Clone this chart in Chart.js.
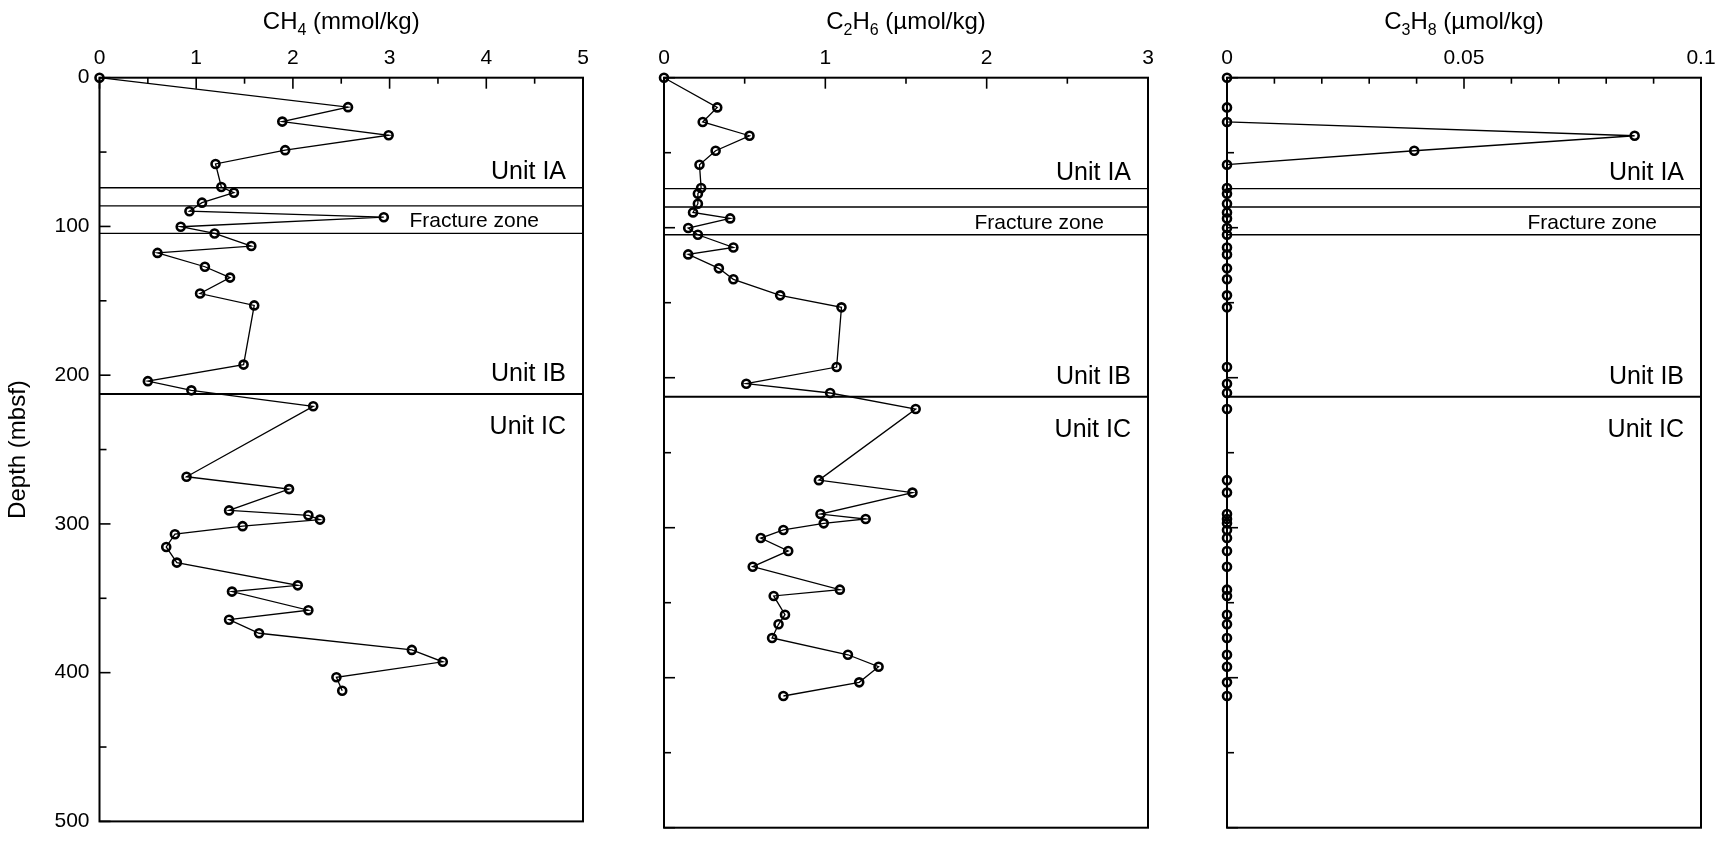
<!DOCTYPE html>
<html lang="en">
<head>
<meta charset="UTF-8">
<title>Headspace gas profiles</title>
<script src="https://cdn.jsdelivr.net/npm/chart.js@4.4.1/dist/chart.umd.min.js"></script>
<style>
  body { margin: 0; background: #fff; }
  #wrap { position: relative; width: 1728px; height: 844px; }
  canvas { position: absolute; top: 0; }
</style>
</head>
<body>
<div id="wrap">
  <canvas id="ch4"></canvas>
  <canvas id="c2h6"></canvas>
  <canvas id="c3h8"></canvas>
</div>
<script>
// sample depths (mbsf), shared by all three profiles
const depth = [0, 19.8, 29.5, 38.7, 48.7, 58, 73.5, 77.3, 84, 89.8, 93.8, 100.2, 104.7, 113.2,
  117.8, 127.1, 134.4, 145.1, 153.1, 192.9, 204, 210.2, 220.9, 268.3, 276.6, 290.9, 294.2,
  297.1, 301.5, 306.9, 315.5, 326, 341.3, 345.5, 358, 364.4, 373.5, 384.7, 392.7, 403.1, 412.2];

// methane, mmol/kg
const ch4 = [0, 2.57, 1.89, 2.99, 1.92, 1.20, 1.26, 1.39, 1.06, 0.93, 2.94, 0.84, 1.19, 1.57,
  0.60, 1.09, 1.35, 1.04, 1.60, 1.49, 0.50, 0.95, 2.21, 0.90, 1.96, 1.34, 2.16,
  2.28, 1.48, 0.78, 0.69, 0.80, 2.05, 1.37, 2.16, 1.34, 1.65, 3.23, 3.55, 2.45, 2.51];

// ethane, umol/kg
const c2h6 = [0, 0.33, 0.24, 0.53, 0.32, 0.22, 0.23, 0.21, 0.21, 0.18, 0.41, 0.15, 0.21, 0.43,
  0.15, 0.34, 0.43, 0.72, 1.10, 1.07, 0.51, 1.03, 1.56, 0.96, 1.54, 0.97, 1.25,
  0.99, 0.74, 0.60, 0.77, 0.55, 1.09, 0.68, 0.75, 0.71, 0.67, 1.14, 1.33, 1.21, 0.74];

// propane, umol/kg
const c3h8 = [0, 0, 0, 0.086, 0.0395, 0, 0, 0, 0, 0, 0, 0, 0, 0,
  0, 0, 0, 0, 0, 0, 0, 0, 0, 0, 0, 0, 0,
  0, 0, 0, 0, 0, 0, 0, 0, 0, 0, 0, 0, 0, 0];

const ch4Ticks = [0, 1, 2, 3, 4, 5];
const c2h6Ticks = [0, 1, 2, 3];
const c3h8Ticks = [0, 0.05, 0.1];
const depthTicks = [0, 100, 200, 300, 400, 500];

// lithologic unit boundaries and labels (mbsf)
const unitBounds = [74, 86.2, 104.7, 212.7];
const unitLabels = ['Unit IA', 'Fracture zone', 'Unit IB', 'Unit IC'];
const unitLabelDepths = [63.7, 96.7, 199.3, 235];

const FONT = '"Liberation Sans", Arial, Helvetica, sans-serif';
Chart.defaults.font.family = FONT;
Chart.defaults.color = '#000';

const PLOT_TOP = 77.7;
const PLOT_BOTTOM = 827.7;

const profilePlugin = {
  id: 'profile',
  beforeDatasetsDraw(chart, args, opts) {
    const { ctx, chartArea: a, scales: { x, y } } = chart;
    ctx.save();
    ctx.strokeStyle = '#000';
    ctx.fillStyle = '#000';

    // unit boundaries
    unitBounds.forEach((d, i) => {
      const py = y.getPixelForValue(d);
      ctx.lineWidth = i === unitBounds.length - 1 ? 2 : 1.3;
      ctx.beginPath();
      ctx.moveTo(a.left, py);
      ctx.lineTo(a.right, py);
      ctx.stroke();
    });

    ctx.textAlign = 'right';
    ctx.textBaseline = 'middle';
    unitLabels.forEach((t, i) => {
      const small = i === 1;
      ctx.font = (small ? 21 : 25) + 'px ' + FONT;
      ctx.fillText(t, a.right - (small ? 44 : 17), y.getPixelForValue(unitLabelDepths[i]));
    });

    // frame
    ctx.lineWidth = 2;
    ctx.strokeRect(a.left, a.top, a.right - a.left, a.bottom - a.top);

    // inward tick marks
    ctx.lineWidth = 1.6;
    const tick = (x0, y0, x1, y1) => {
      ctx.beginPath(); ctx.moveTo(x0, y0); ctx.lineTo(x1, y1); ctx.stroke();
    };
    const majors = x.ticks.map(t => t.value);
    majors.forEach(v => {
      const px = x.getPixelForValue(v);
      tick(px, a.top, px, a.top + 11);
    });
    for (let v = x.min + opts.minorX; v < x.max - 1e-9; v += opts.minorX) {
      if (majors.some(m => Math.abs(m - v) < 1e-9)) continue;
      const px = x.getPixelForValue(v);
      tick(px, a.top, px, a.top + 6);
    }
    depthTicks.forEach((d, i) => {
      let py = y.getPixelForValue(d);
      tick(a.left, py, a.left + 11, py);
      if (i < depthTicks.length - 1) {
        py = y.getPixelForValue((d + depthTicks[i + 1]) / 2);
        tick(a.left, py, a.left + 7, py);
      }
    });

    // axis title with subscripts
    const parts = opts.title;
    const mainFont = '24px ' + FONT, subFont = '16px ' + FONT;
    let total = 0;
    parts.forEach(([t, sub]) => { ctx.font = sub ? subFont : mainFont; total += ctx.measureText(t).width; });
    let tx = (a.left + a.right) / 2 - total / 2;
    ctx.textAlign = 'left';
    ctx.textBaseline = 'alphabetic';
    parts.forEach(([t, sub]) => {
      ctx.font = sub ? subFont : mainFont;
      ctx.fillText(t, tx, sub ? 34.5 : 28.5);
      tx += ctx.measureText(t).width;
    });
    ctx.restore();
  }
};

function makePanel(id, values, ticks, xMax, minorX, title, box) {
  const canvas = document.getElementById(id);
  const width = box.gutter + box.width + 22;
  canvas.width = width;
  canvas.height = 844;
  canvas.style.left = (box.left - box.gutter) + 'px';

  const showDepth = box.gutter > 50;
  return new Chart(canvas, {
    type: 'scatter',
    data: {
      datasets: [{
        data: depth.map((d, i) => ({ x: values[i], y: d })),
        showLine: true,
        borderColor: '#000',
        borderWidth: 1.3,
        pointRadius: 4,
        pointBorderWidth: 2.6,
        pointBorderColor: '#000',
        pointBackgroundColor: 'rgba(0,0,0,0)',
        clip: false
      }]
    },
    options: {
      responsive: false,
      animation: false,
      events: [],
      layout: { padding: { left: 0, top: 0, right: width - box.gutter - box.width, bottom: 844 - PLOT_BOTTOM } },
      plugins: {
        legend: { display: false },
        tooltip: { enabled: false },
        profile: { minorX, title }
      },
      scales: {
        x: {
          type: 'linear',
          position: 'top',
          min: 0,
          max: xMax,
          afterBuildTicks: s => { s.ticks = ticks.map(v => ({ value: v })); },
          afterFit: s => { s.height = PLOT_TOP; },
          grid: { display: false, drawTicks: false },
          border: { display: false },
          ticks: {
            font: { size: 21 },
            padding: 7,
            maxRotation: 0,
            callback: v => String(+v.toFixed(3))
          }
        },
        y: {
          type: 'linear',
          reverse: true,
          min: 0,
          max: 500,
          afterBuildTicks: s => { s.ticks = depthTicks.map(v => ({ value: v })); },
          afterFit: s => { s.width = box.gutter; },
          grid: { display: false, drawTicks: false },
          border: { display: false },
          ticks: { display: showDepth, font: { size: 21 }, padding: 10 },
          title: {
            display: showDepth,
            text: 'Depth (mbsf)',
            font: { size: 24 },
            padding: { top: 4, bottom: 0 }
          }
        }
      }
    },
    plugins: [profilePlugin]
  });
}

makePanel('ch4', ch4, ch4Ticks, 5, 0.5,
  [['CH', 0], ['4', 1], [' (mmol/kg)', 0]],
  { left: 99.5, width: 484, gutter: 99.5 });
makePanel('c2h6', c2h6, c2h6Ticks, 3, 0.5,
  [['C', 0], ['2', 1], ['H', 0], ['6', 1], [' (µmol/kg)', 0]],
  { left: 664, width: 484, gutter: 40 });
makePanel('c3h8', c3h8, c3h8Ticks, 0.1, 0.01,
  [['C', 0], ['3', 1], ['H', 0], ['8', 1], [' (µmol/kg)', 0]],
  { left: 1226.8, width: 474, gutter: 40 });
</script>
</body>
</html>
